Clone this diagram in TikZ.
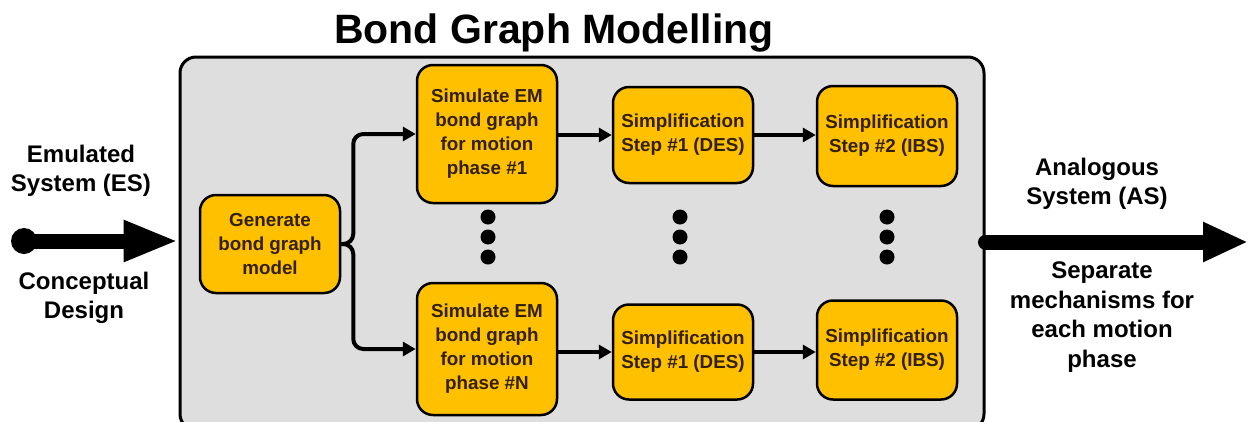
\documentclass[tikz,border=0pt]{standalone}
\usepackage{fontspec}
\setmainfont{Liberation Sans}
\usetikzlibrary{arrows.meta}
\definecolor{boxfill}{HTML}{FFC000}
\definecolor{panel}{HTML}{DEDEDE}
\definecolor{boxtext}{HTML}{33200A}
\tikzset{
  stepbox/.style={draw=black, line width=2.5pt, fill=boxfill, rounded corners=16pt,
    align=center, inner sep=0pt, minimum width=140pt, text=boxtext,
    font=\fontsize{18.8}{24}\selectfont\bfseries},
  conn/.style={line width=4pt, -{Triangle[length=13pt,width=14pt]}},
  bigarrow/.style={line width=15pt, -{Triangle[length=55pt,width=38pt]}},
  sidelabel/.style={align=center, font=\fontsize{24}{29.5}\selectfont\bfseries},
  dot/.style={circle, fill=black, inner sep=0pt, minimum size=15pt}
}
\begin{document}
\begin{tikzpicture}[x=1pt,y=-1pt]
\useasboundingbox (0,0) rectangle (1248,421);
% grey panel holding the modelling steps
\node[draw=black, line width=3pt, fill=panel, rounded corners=16pt,
      minimum width=804pt, minimum height=373pt, inner sep=0pt] (frame) at (582,243.5) {};
\node[font=\fontsize{41}{44}\selectfont\bfseries] (title) at (554,33) {Bond Graph Modelling};

% steps
\node[stepbox, minimum height=98pt] (gen) at (270,244) {Generate\\bond graph\\model};
\node[stepbox, minimum height=138pt] (simA) at (487,134) {Simulate EM\\bond graph\\for motion\\phase \#1};
\node[stepbox, minimum height=132pt] (simN) at (487,349) {Simulate EM\\bond graph\\for motion\\phase \#N};
\node[stepbox, minimum height=96pt] (desA) at (683,135) {Simplification\\Step \#1 (DES)};
\node[stepbox, minimum height=95pt] (desN) at (683,352) {Simplification\\Step \#1 (DES)};
\node[stepbox, minimum height=100pt] (ibsA) at (887,136) {Simplification\\Step \#2 (IBS)};
\node[stepbox, minimum height=99pt] (ibsN) at (887,350) {Simplification\\Step \#2 (IBS)};

% ellipsis dots
\foreach \x/\n in {488/a,680/b,887/c}{
  \node[dot] (\n1) at (\x,217) {};
  \node[dot] (\n2) at (\x,237) {};
  \node[dot] (\n3) at (\x,257) {};
}

% branching connectors
\draw[conn, rounded corners=10pt] (gen.east) -- ++(12,0) |- (simA.west);
\draw[conn, rounded corners=10pt] (gen.east) -- ++(12,0) |- (simN.west);
\draw[conn] (simA.east |- desA.west) -- (desA.west);
\draw[conn] (desA.east) -- (ibsA.west |- desA.east);
\draw[conn] (simN.east |- desN.west) -- (desN.west);
\draw[conn] (desN.east) -- (ibsN.west |- desN.east);

% input and output arrows
\node[circle, fill=black, inner sep=0pt, minimum size=26pt] (es) at (24,241) {};
\draw[bigarrow] (es.center) -- (es.center -| frame.west);
\coordinate (out) at (1248,242);
\draw[line width=15pt, line cap=round, -{Triangle[length=45pt,width=37pt]}] (out -| frame.east) -- (out);

% side labels
\node[sidelabel] (esl) at (81,171) {Emulated\\System (ES)};
\node[sidelabel] (cd) at (84,298) {Conceptual\\Design};
\node[sidelabel] (asl) at (1097,184) {Analogous\\System (AS)};
\node[sidelabel] (sep) at (1102,317) {Separate\\mechanisms for\\each motion\\phase};
\end{tikzpicture}
\end{document}
